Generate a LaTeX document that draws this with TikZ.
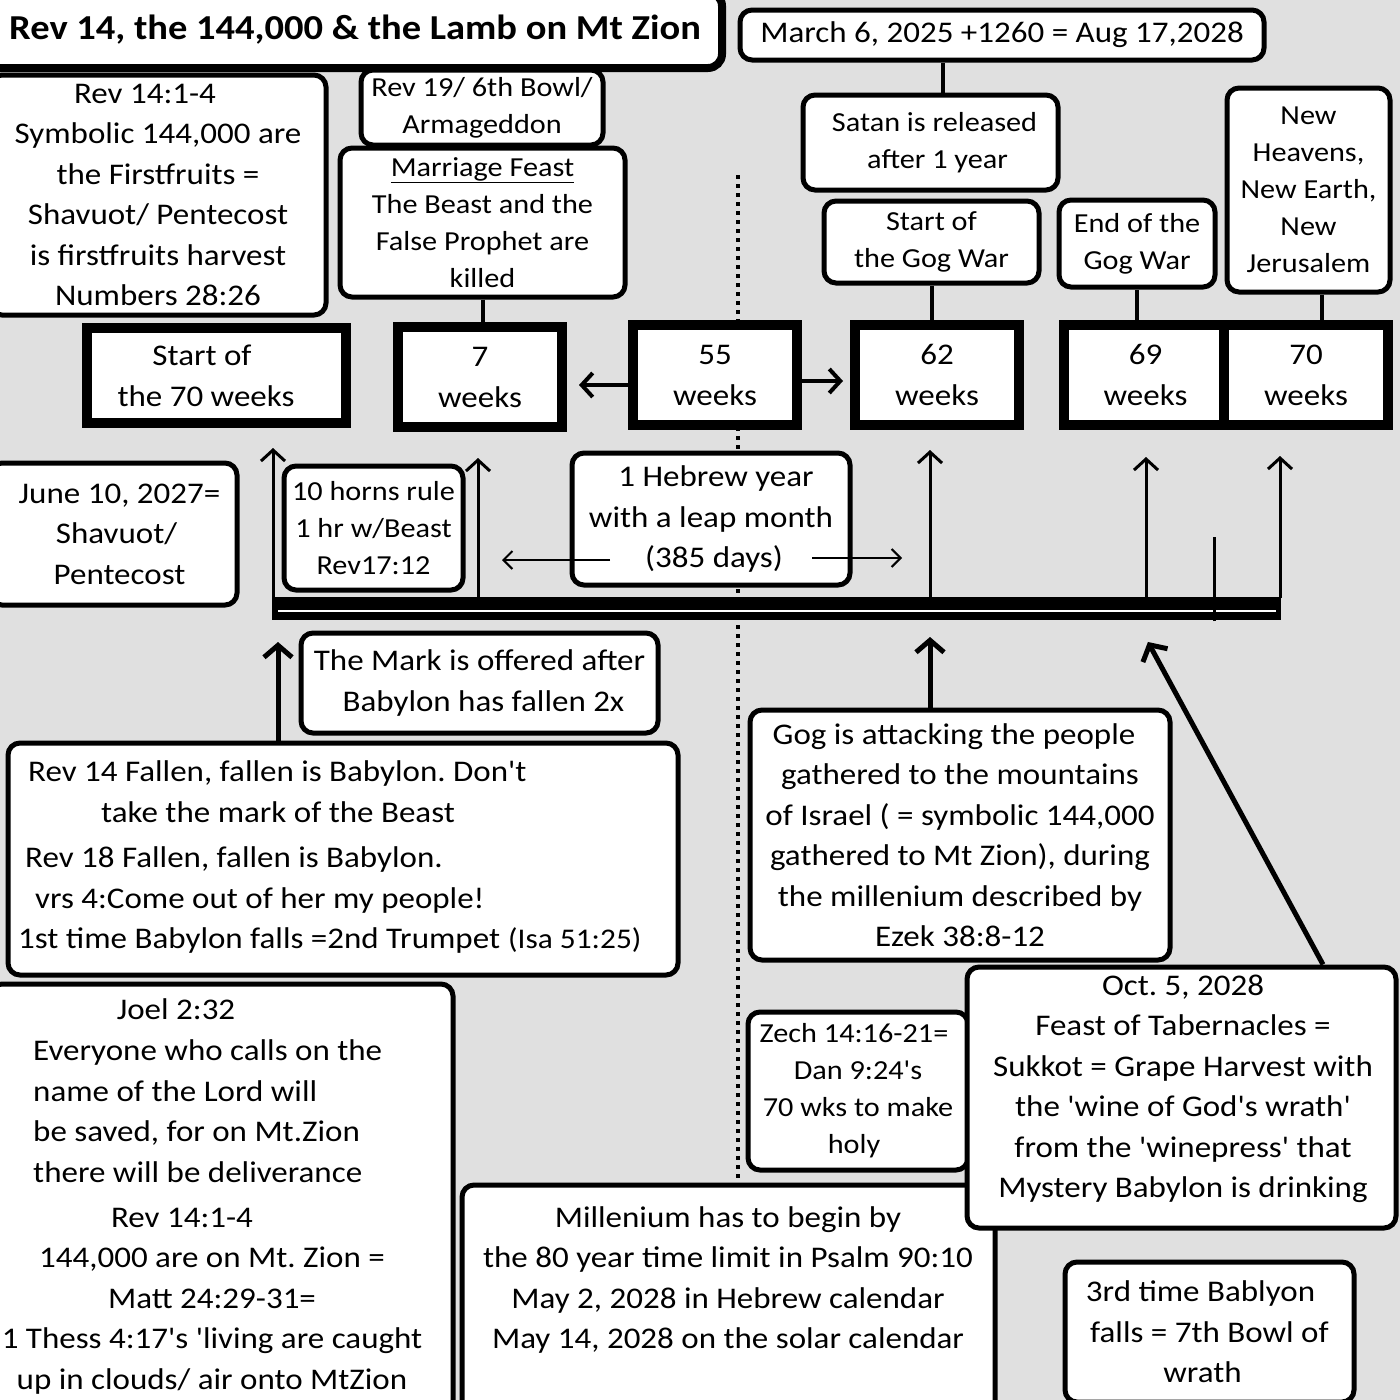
\documentclass[tikz,border=0pt]{standalone}
\usepackage{fontspec}
\setmainfont{Carlito}[FakeStretch=1.1, Ligatures=TeXOff]
\usetikzlibrary{arrows.meta}

\definecolor{bggray}{RGB}{224,224,224}

\tikzset{
  card/.style={draw, line width=5pt, rounded corners=12pt, fill=white, align=center,
    inner sep=0pt, font=\fontsize{30}{40.5}\selectfont},
  smallcard/.style={card, font=\fontsize{27.5}{37}\selectfont},
  weekbox/.style={draw, line width=10pt, fill=white, align=center, inner sep=0pt,
    minimum width=164pt, minimum height=100pt, font=\fontsize{30}{41}\selectfont},
  txt/.style={align=center, inner sep=0pt, font=\fontsize{30}{40.5}\selectfont},
  link/.style={line width=4pt},
  uparrow/.style={line width=3pt, -{Straight Barb[length=11pt,width=24pt]}},
  bigarrow/.style={line width=5pt, -{Straight Barb[length=12pt,width=28pt]}},
  sidearrow/.style={line width=4pt, -{Straight Barb[length=11pt,width=24pt]}},
  thinarrow/.style={line width=2pt, -{Straight Barb[length=9pt,width=18pt]}},
  dots/.style={line width=4pt, dash pattern=on 4pt off 5pt}
}

\begin{document}
\frenchspacing
\begin{tikzpicture}[x=1pt,y=-1pt]
\useasboundingbox (0,0) rectangle (1400,1400);
\clip (0,0) rectangle (1400,1400);
\fill[bggray] (0,0) rectangle (1400,1400);

% dotted divider
\draw[dots] (738,175) -- (738,1180);

% title
\node[draw, line width=8pt, rounded corners=14pt, fill=white, inner sep=0pt,
  minimum width=742pt, minimum height=76pt, font=\bfseries\fontsize{35}{40}\selectfont]
  (title) at (351,30) {\hspace*{8pt}Rev 14, the 144,000 \& the Lamb on Mt Zion};

% top cards
\node[card, minimum width=336pt, minimum height=240pt] (firstfruits) at (158,195)
  {Rev 14:1-4\hspace*{26pt}\\Symbolic 144,000 are\\the Firstfruits =\\Shavuot/ Pentecost\\is firstfruits harvest\\Numbers 28:26};
\node[smallcard, minimum width=242pt, minimum height=75pt] (armageddon) at (482,107.5)
  {Rev 19/ 6th Bowl/\\Armageddon};
\node[smallcard, minimum width=285pt, minimum height=149pt] (feast) at (482.5,222.5)
  {\underline{Marriage Feast}\\The Beast and the\\False Prophet are\\killed};
\node[card, minimum width=524pt, minimum height=50pt] (march) at (1002,35)
  {March 6, 2025 +1260 = Aug 17,2028};
\node[smallcard, minimum width=255pt, minimum height=95pt] (satan) at (930.5,142.5)
  {\hspace*{8pt}Satan is released\\\hspace*{14pt}after 1 year};
\node[smallcard, minimum width=215pt, minimum height=82pt] (gogstart) at (931.5,242)
  {Start of\\the Gog War};
\node[smallcard, minimum width=156pt, minimum height=87pt] (gogend) at (1137,243.5)
  {End of the\\Gog War};
\node[smallcard, minimum width=163pt, minimum height=204pt] (newheavens) at (1308.5,190)
  {New\\Heavens,\\New Earth,\\New\\Jerusalem};

% the weeks
\node[weekbox, minimum width=259pt, minimum height=95pt] (start70) at (216.5,375.5)
  {Start of\hspace*{29pt}\\the 70 weeks\hspace*{21pt}};
\node[weekbox] (w7) at (480,377) {7\\weeks};
\node[weekbox] (w55) at (715,375) {55\\weeks};
\node[weekbox] (w62) at (937,375) {62\\weeks};
\node[weekbox, minimum width=163pt] (w69) at (1145.5,375) {69\\weeks};
\node[weekbox] (w70) at (1306,375) {70\\weeks};

\draw[link] ([xshift=12pt]satan.north) -- ([xshift=12pt]satan.north |- march.south);
\draw[link] (feast.south) -- (feast.south |- w7.north);
\draw[link] (gogstart.south) -- (gogstart.south |- w62.north);
\draw[link] (gogend.south |- w69.north) -- (gogend.south);
\draw[link] ([xshift=13pt]newheavens.south) -- ([xshift=13pt]newheavens.south |- w70.north);
\draw[sidearrow, shorten >=12pt] ([yshift=-10pt]w55.west) -- ([yshift=-10pt]w55.west -| w7.east);
\draw[sidearrow, shorten >=7pt] ([yshift=-6pt]w55.east) -- ([yshift=-6pt]w55.east -| w62.west);

% middle cards
\node[card, minimum width=247pt, minimum height=142pt] (june) at (113.5,534)
  {\hspace*{12pt}June 10, 2027=\\\hspace*{6pt}Shavuot/\\\hspace*{12pt}Pentecost};
\node[smallcard, minimum width=179pt, minimum height=124pt] (horns) at (373.5,528)
  {10 horns rule\\1 hr w/Beast\\Rev17:12};
\node[card, minimum width=278pt, minimum height=132pt] (hebrew) at (711,519)
  {\hspace*{10pt}1 Hebrew year\\with a leap month\\\hspace*{6pt}(385 days)};

\coordinate (hl) at (610,560);
\coordinate (hlend) at (502,560);
\coordinate (hr) at (812,558);
\coordinate (hrend) at (902,558);
\draw[thinarrow] (hl) -- (hlend);
\draw[thinarrow] (hr) -- (hrend);

% timeline
\fill (272,597) rectangle (1281,620);
\draw[white, line width=2pt] (278,611) -- (1276,611);
\coordinate (t1) at (273,598);
\coordinate (t2) at (478,598);
\coordinate (t3) at (930,598);
\coordinate (t4) at (1146,598);
\coordinate (t5) at (1280,598);
\coordinate (tick) at (1214,621);
\coordinate (b1) at (278,620);
\coordinate (b2) at (930,620);
\coordinate (b3) at (1136,620);
\draw[uparrow, shorten >=20pt] (t1) -- (t1 |- start70.south);
\draw[uparrow, shorten >=26pt] (t2) -- (t2 |- w7.south);
\draw[uparrow, shorten >=20pt] (t3) -- (t3 |- w62.south);
\draw[uparrow, shorten >=27pt] (t4) -- (t4 |- w69.south);
\draw[uparrow, shorten >=26pt] (t5) -- (t5 |- w70.south);
\draw[line width=3pt] (tick) -- ++(0,-84);

% lower cards
\node[card, minimum width=357pt, minimum height=100pt] (mark) at (479.5,683)
  {The Mark is offered after\\\hspace*{8pt}Babylon has fallen 2x};
\node[card, minimum width=670pt, minimum height=232pt] (fallenbox) at (343,859) {};
\node[txt, align=left, anchor=west] (fallen) at (18,857)
  {\hspace*{10pt}Rev 14 Fallen, fallen is Babylon. Don't\\
   \hspace*{83pt}take the mark of the Beast\\[5pt]
   \hspace*{7pt}Rev 18 Fallen, fallen is Babylon.\\
   \hspace*{17pt}vrs 4:Come out of her my people!\\
   1st time Babylon falls =2nd Trumpet\hspace{8pt}{\fontsize{28.5}{37}\selectfont(Isa 51:25)}};
\node[card, minimum width=420pt, minimum height=250pt] (gog) at (960,835)
  {Gog is attacking the people\hspace*{12pt}\\gathered to the mountains\hspace*{12pt}\\of Israel ( = symbolic 144,000\hspace*{8pt}\\gathered to Mt Zion), during\hspace*{8pt}\\the millenium described by\hspace*{8pt}\\Ezek 38:8-12};
\draw[bigarrow, shorten >=22pt] (b1 |- fallenbox.north) -- (b1);
\draw[bigarrow, shorten >=17pt] (b2 |- gog.north) -- (b2);

\node[card, minimum width=463pt, minimum height=446pt] (joel) at (221.5,1207) {};
\node[txt] (joelhead) at (176,1009) {Joel 2:32};
\node[txt, align=left, anchor=west] (joelbody) at (33,1111)
  {Everyone who calls on the\\name of the Lord will\\be saved, for on Mt.Zion\\there will be deliverance};
\node[txt] (joelrev) at (212,1301)
  {Rev 14:1-4\hspace*{60pt}\\144,000 are on Mt. Zion =\hspace*{26pt}\\Matt 24:29-31=\\1 Thess 4:17's 'living are caught\\up in clouds/ air onto MtZion};

\node[smallcard, minimum width=220pt, minimum height=158pt] (zech) at (858,1091)
  {Zech 14:16-21=\hspace*{8pt}\\Dan 9:24's\hspace*{8pt}\\70 wks to make\hspace*{8pt}\\holy\hspace*{8pt}};
\node[card, minimum width=533pt, minimum height=250pt] (millbox) at (728.5,1310) {};
\node[txt] (mill) at (728,1280)
  {Millenium has to begin by\\the 80 year time limit in Psalm 90:10\\May 2, 2028 in Hebrew calendar\\May 14, 2028 on the solar calendar};
\node[card, minimum width=429pt, minimum height=261pt] (octbox) at (1181.5,1097.5) {};
\node[txt] (oct) at (1183,1089)
  {Oct. 5, 2028\\Feast of Tabernacles =\\Sukkot = Grape Harvest with\\the 'wine of God's wrath'\\from the 'winepress' that\\Mystery Babylon is drinking};
\draw[bigarrow, shorten >=25pt] ([xshift=141.5pt]octbox.north) -- (b3);
\node[card, minimum width=289pt, minimum height=140pt] (thirdfall) at (1209.5,1332)
  {3rd time Bablyon\hspace*{18pt}\\falls = 7th Bowl of\hspace*{12pt}\\wrath\hspace*{14pt}};
\end{tikzpicture}
\end{document}
